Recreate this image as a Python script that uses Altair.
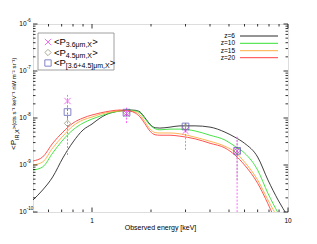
import altair as alt
import pandas as pd

# ---------------- data ----------------
energy = [0.50, 0.56, 0.63, 0.71, 0.80, 0.90, 1.00, 1.10, 1.24, 1.39, 1.56, 1.66, 1.76, 1.86,
          1.98, 2.10, 2.22, 2.50, 2.81, 3.36, 4.00, 4.77, 5.36, 6.00, 7.00, 7.90, 8.90, 10.0]
z6 = [1.80e-10, 2.94e-10, 5.56e-10, 1.41e-9, 3.08e-9, 5.56e-9, 7.45e-9, 1.0e-8, 1.28e-8, 1.41e-8,
      1.48e-8, 1.46e-8, 1.34e-8, 1.02e-8, 7.3e-9, 6.2e-9, 6.1e-9, 6.4e-9, 6.8e-9, 6.8e-9, 6.4e-9,
      5.0e-9, 3.9e-9, 2.9e-9, 1.48e-9, 4.8e-10, 1.8e-10, 8.0e-11]
z10 = [7.8e-10, 9.1e-10, 1.8e-9, 3.4e-9, 5.6e-9, 7.8e-9, 9.5e-9, 1.1e-8, 1.28e-8, 1.41e-8,
       1.47e-8, 1.41e-8, 1.28e-8, 9.7e-9, 7.0e-9, 5.9e-9, 5.6e-9, 5.8e-9, 5.8e-9, 5.3e-9, 4.3e-9,
       3.4e-9, 2.5e-9, 1.8e-9, 7.8e-10, 2.5e-10, 9.5e-11, 4.0e-11]
z15 = [1.0e-9, 1.16e-9, 2.3e-9, 4.1e-9, 6.8e-9, 9.1e-9, 1.05e-8, 1.2e-8, 1.34e-8, 1.41e-8,
       1.41e-8, 1.34e-8, 1.16e-8, 8.4e-9, 5.8e-9, 4.9e-9, 4.8e-9, 4.8e-9, 4.6e-9, 3.9e-9, 3.2e-9,
       2.5e-9, 1.9e-9, 1.16e-9, 4.8e-10, 1.8e-10, 7.0e-11, 2.0e-11]
z20 = [1.22e-9, 1.48e-9, 2.9e-9, 5.0e-9, 7.8e-9, 1.0e-8, 1.16e-8, 1.28e-8, 1.41e-8, 1.48e-8,
       1.41e-8, 1.28e-8, 1.05e-8, 7.6e-9, 5.2e-9, 4.4e-9, 4.3e-9, 4.3e-9, 4.1e-9, 3.6e-9, 2.9e-9,
       2.3e-9, 1.63e-9, 1.0e-9, 4.1e-10, 1.5e-10, 5.0e-11, 2.0e-11]
series_names = ["z=6", "z=10", "z=15", "z=20"]
series_colors = ["#2a2a2a", "#33e033", "#ffad40", "#ff4040"]

band_energy = [0.75, 1.5, 3.0, 5.5]
p36 = [2.3e-8, 1.25e-8, 5.3e-9, 2.0e-9]
p36_lo = [1.7e-8, 7.8e-9, 2.1e-9, 5.0e-11]
p36_hi = [3.1e-8, 1.66e-8, 7.8e-9, 4.1e-9]
p45 = [7.7e-9, 1.3e-8, 6.4e-9, 2.0e-9]
p45_lo = [1.63e-9, 1.1e-8, 5.0e-9, 4.8e-10]
p45_hi = [1.0e-8, 1.55e-8, 7.8e-9, 3.4e-9]
pcomb = [1.34e-8, 1.3e-8, 6.6e-9, 2.0e-9]
pcomb_lo = [1.0e-8, 1.15e-8, 6.0e-9, 1.5e-9]
pcomb_hi = [1.8e-8, 1.45e-8, 7.3e-9, 2.5e-9]

ytick_major = [1e-10, 1e-9, 1e-8, 1e-7, 1e-6]
ytick_exp = ["-10", "-9", "-8", "-7", "-6"]
ytick_minor = [k * 10.0 ** n for n in (-10, -9, -8, -7) for k in range(2, 10)]
xtick_major = [1, 10]
xtick_labels = ["1", "10"]
xtick_minor = [0.6, 0.7, 0.8, 0.9, 2, 3, 4, 5, 6, 7, 8, 9]

# ---------------- layout ----------------
W, H = 255, 188
FONT = "Liberation Sans"
xsc = alt.Scale(type="log", domain=[0.5, 10])
ysc = alt.Scale(type="log", domain=[1e-10, 1e-6])

rows = []
for name, vals in zip(series_names, [z6, z10, z15, z20]):
    for e, v in zip(energy, vals):
        rows.append({"E": e, "P": v, "z": name})
curves_df = pd.DataFrame(rows)

curves = alt.Chart(curves_df).mark_line(strokeWidth=0.9, clip=True, interpolate="monotone").encode(
    x=alt.X("E:Q", scale=xsc, axis=None),
    y=alt.Y("P:Q", scale=ysc, axis=None),
    color=alt.Color("z:N", scale=alt.Scale(domain=series_names, range=series_colors), legend=None),
    detail="z:N",
)

pts_df = pd.DataFrame({
    "E": band_energy,
    "p36": p36, "p36_lo": p36_lo, "p36_hi": p36_hi,
    "p45": p45, "p45_lo": p45_lo, "p45_hi": p45_hi,
    "pc": pcomb, "pc_lo": pcomb_lo, "pc_hi": pcomb_hi,
})
base = alt.Chart(pts_df)
XSHAPE = "M-1,-1L1,1M-1,1L1,-1"

def errbar(lo, hi, color):
    return base.mark_rule(color=color, strokeWidth=0.9, strokeDash=[2, 1.5], clip=True).encode(
        x=alt.X("E:Q", scale=xsc, axis=None),
        y=alt.Y(f"{lo}:Q", scale=ysc, axis=None),
        y2=f"{hi}:Q",
    )

def marker(field, shape, color, size):
    return base.mark_point(shape=shape, filled=False, color=color, size=size, strokeWidth=1, clip=True).encode(
        x=alt.X("E:Q", scale=xsc, axis=None),
        y=alt.Y(f"{field}:Q", scale=ysc, axis=None),
    )

C36, C45, CC = "#ee33ee", "#8a8a6a", "#4f4fb0"
layers = [
    curves,
    errbar("p45_lo", "p45_hi", "#999999"),
    errbar("pc_lo", "pc_hi", "#7070cc"),
    errbar("p36_lo", "p36_hi", "#ff55ff"),
    marker("p45", "diamond", C45, 40),
    marker("pc", "square", CC, 45),
    marker("p36", XSHAPE, C36, 40),
]

one = pd.DataFrame({"a": [0]})

def vtext(txt, x, y, size, align="left", angle=0, color="#000"):
    kw = {}
    if angle:
        kw["angle"] = angle
    return alt.Chart(one).mark_text(text=txt, align=align, baseline="middle", fontSize=size,
                                    font=FONT, color=color, **kw).encode(
        x=alt.value(x), y=alt.value(y))

# left legend box
layers.append(alt.Chart(one).mark_rect(fill="white", stroke="#888888", strokeWidth=0.8).encode(
    x=alt.value(5), x2=alt.value(81), y=alt.value(9), y2=alt.value(46)))
leg_items = [
    (XSHAPE, C36, "3.6μm,X", 18),
    ("diamond", C45, "4.5μm,X", 28.5),
    ("square", CC, "[3.6+4.5]μm,X", 39),
]
for shape, col, sub, ry in leg_items:
    layers.append(alt.Chart(one).mark_point(shape=shape, filled=False, color=col, size=40, strokeWidth=1).encode(
        x=alt.value(15), y=alt.value(ry)))
    layers.append(vtext("<P", 21, ry, 9.5))
    layers.append(vtext(sub, 32.8, ry + 3, 7))
    subw = {"3.6μm,X": 26.5, "4.5μm,X": 26.5, "[3.6+4.5]μm,X": 44.0}[sub]
    layers.append(vtext(">", 32.8 + subw, ry, 9.5))

# right legend (lines)
for name, col, ry in zip(series_names, series_colors, [12, 19.3, 26.7, 33.7]):
    layers.append(vtext(name, 202, ry, 6.5, align="right"))
    layers.append(alt.Chart(one).mark_rule(color=col, strokeWidth=1).encode(
        x=alt.value(207), x2=alt.value(245), y=alt.value(ry)))

# ticks (inward, mirrored)
def yticks(vals, length):
    d = alt.Chart(pd.DataFrame({"v": vals}))
    return [
        d.mark_rule(color="#000", strokeWidth=0.8).encode(y=alt.Y("v:Q", scale=ysc, axis=None),
                                                           x=alt.value(0), x2=alt.value(length)),
        d.mark_rule(color="#000", strokeWidth=0.8).encode(y=alt.Y("v:Q", scale=ysc, axis=None),
                                                           x=alt.value(W - length), x2=alt.value(W)),
    ]

def xticks(vals, length):
    d = alt.Chart(pd.DataFrame({"v": vals}))
    return [
        d.mark_rule(color="#000", strokeWidth=0.8).encode(x=alt.X("v:Q", scale=xsc, axis=None),
                                                           y=alt.value(H - length), y2=alt.value(H)),
        d.mark_rule(color="#000", strokeWidth=0.8).encode(x=alt.X("v:Q", scale=xsc, axis=None),
                                                           y=alt.value(0), y2=alt.value(length)),
    ]

layers += yticks(ytick_major, 4.5) + yticks(ytick_minor, 2.5)
layers += xticks(xtick_major, 4.5) + xticks(xtick_minor, 2.5)

# y tick labels 10^n
ylab = alt.Chart(pd.DataFrame({"v": ytick_major, "e": ytick_exp}))
layers.append(ylab.mark_text(text="10", align="right", baseline="middle", fontSize=6.5, font=FONT).encode(
    y=alt.Y("v:Q", scale=ysc, axis=None), x=alt.value(-6.5)))
layers.append(ylab.mark_text(align="left", baseline="middle", fontSize=4.5, font=FONT, dy=-3).encode(
    y=alt.Y("v:Q", scale=ysc, axis=None), x=alt.value(-6.3), text="e:N"))

# x tick labels
xlab = alt.Chart(pd.DataFrame({"v": xtick_major, "t": xtick_labels}))
layers.append(xlab.mark_text(align="center", baseline="middle", fontSize=6.5, font=FONT).encode(
    x=alt.X("v:Q", scale=xsc, axis=None), y=alt.value(H + 9), text="t:N"))

# axis titles
layers.append(vtext("Observed energy [keV]", W / 2, H + 16, 7, align="center"))
layers.append(vtext("<P", -19, 126, 8, angle=270))
layers.append(vtext("IR,X", -16.5, 116, 5.5, angle=270))
layers.append(vtext(">(cts s⁻¹ keV⁻¹ nW m⁻² sr⁻¹)", -19, 105.3, 6, angle=270))

chart = alt.layer(*layers).properties(
    width=W, height=H,
    padding={"left": 25, "top": 16, "right": 10, "bottom": 20},
    autosize=alt.AutoSizeParams(type="none"),
).configure_view(stroke="#000", strokeWidth=1).configure(font=FONT)

chart.save("out.html", embed_options={"renderer": "svg", "actions": False})
